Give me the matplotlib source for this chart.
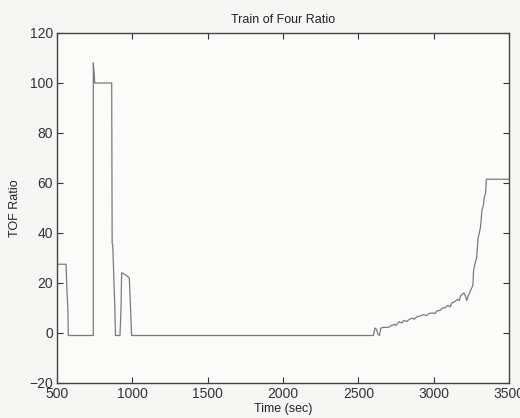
import matplotlib
matplotlib.use("Agg")
import matplotlib.pyplot as plt

plt.rcParams['font.family'] = ['Liberation Sans Narrow', 'Liberation Sans', 'DejaVu Sans']

# TOF ratio trace (time in sec, ratio)
time_s = [500, 560, 566, 572, 575, 741, 741, 748, 750, 752, 863, 866, 870, 880, 884, 888,
          918, 925, 929, 935, 960, 980, 988, 995,
          2600, 2610, 2620, 2630, 2640, 2650, 2660, 2700, 2720, 2740, 2750, 2770, 2790,
          2800, 2820, 2840, 2860, 2870, 2890, 2910, 2930, 2950, 2970, 2990, 3010, 3020,
          3040, 3060, 3080, 3090, 3110, 3120, 3140, 3160, 3170, 3180, 3200, 3210, 3220,
          3230, 3245, 3260, 3265, 3275, 3285, 3295, 3310, 3315, 3320, 3330, 3335, 3345,
          3350, 3500]
tof = [27.5, 27.5, 17, 10, -1, -1, 108, 103, 100, 100, 100, 36, 35, 17, 10, -1,
       -1, 10, 24, 24, 23, 22, 10, -1,
       -1, 2, 1.5, -0.5, -1, 2, 2.2, 2.3, 3, 3.5, 3, 4.5, 4,
       5, 4.6, 5.5, 6, 5.5, 6.5, 6.8, 7.3, 7, 7.8, 8, 7.8, 8.8,
       9, 10, 10.2, 11, 10.5, 12, 12.5, 13.5, 13, 15, 16, 15, 13,
       15, 17, 19, 25, 28, 30, 38, 42, 45, 49, 51, 54, 56,
       61.5, 61.5]

xticks = [500, 1000, 1500, 2000, 2500, 3000, 3500]
yticks = [-20, 0, 20, 40, 60, 80, 100, 120]

fig = plt.figure(figsize=(5.2, 4.18), dpi=100, facecolor='#f6f6f4')
ax = fig.add_axes([57/520, 1 - 383/418, 452/520, 350/418])
ax.set_facecolor('#fbfbfa')

ax.plot(time_s, tof, color='#7a7a7a', linewidth=0.9)

ax.set_xlim(500, 3500)
ax.set_ylim(-20, 120)
ax.set_xticks(xticks)
ax.set_yticks(yticks)
ax.tick_params(direction='in', length=4, width=0.8, colors='#333333',
               labelsize=10, top=True, right=True, pad=3)
for s in ax.spines.values():
    s.set_color('#444444')
    s.set_linewidth(1.0)

ax.set_title('Train of Four Ratio', fontsize=9, color='#222222', pad=7)
ax.set_xlabel('Time (sec)', fontsize=9, color='#222222', labelpad=1)
ax.set_ylabel('TOF Ratio', fontsize=9, color='#222222', labelpad=6)

fig.savefig('out.png', dpi=100, facecolor=fig.get_facecolor())
